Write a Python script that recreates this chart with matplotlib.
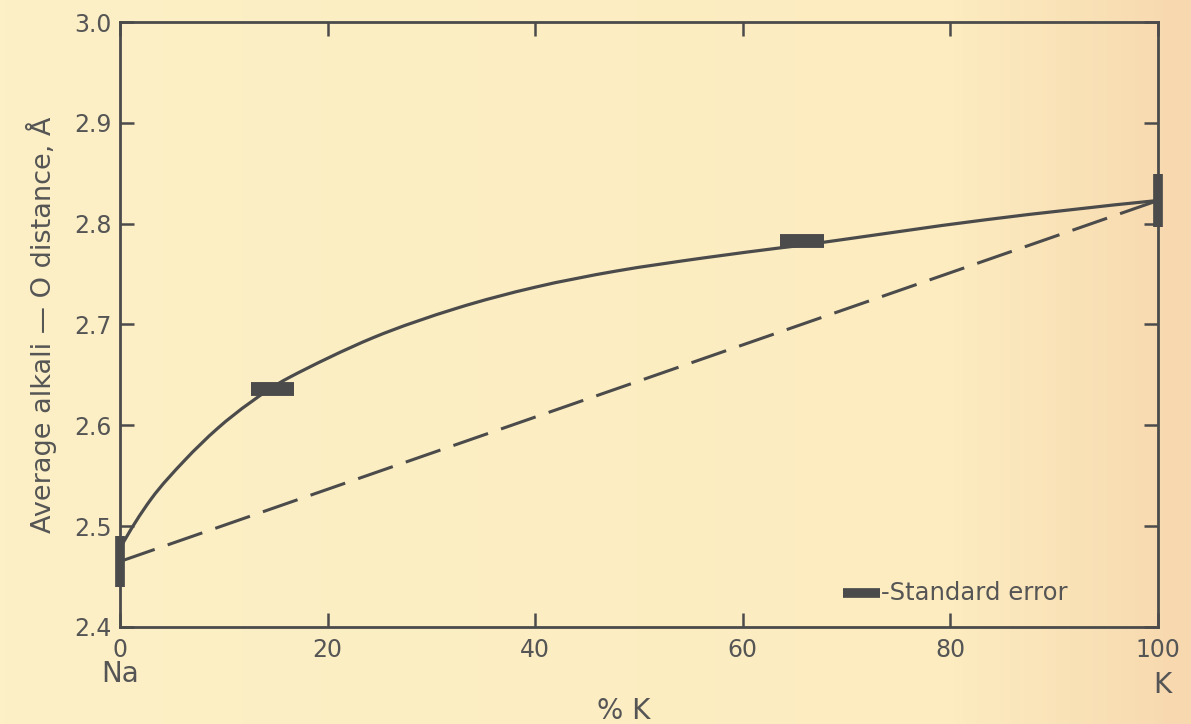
import numpy as np
import matplotlib
matplotlib.use("Agg")
import matplotlib.pyplot as plt
from matplotlib.colors import LinearSegmentedColormap
from matplotlib.path import Path
from matplotlib.patches import PathPatch

# ---- data ----
curve_x = [0.0, 3.0, 6.2, 9.4, 12.6, 16.4, 24.4, 32.4, 40.0,
           47.8, 56.2, 63.6, 67.4, 83.5, 100.0]
curve_y = [2.478, 2.527, 2.565, 2.597, 2.623, 2.648, 2.687, 2.716, 2.737,
           2.753, 2.766, 2.776, 2.781, 2.804, 2.823]
linear_x = [0, 100]
linear_y = [2.465, 2.823]

vbar_x = [0, 100]
vbar_y = [2.465, 2.823]
vbar_err = [0.025, 0.026]

hbar_x = [14.7, 65.7]
hbar_y = [2.636, 2.783]
hbar_err = [2.1, 2.1]

xticks = [0, 20, 40, 60, 80, 100]
yticks = [2.4, 2.5, 2.6, 2.7, 2.8, 2.9, 3.0]

ink = "#4b4b4b"
txt = "#555555"


def smooth_path(xs, ys):
    """Catmull-Rom curve through the points, as cubic Bezier segments."""
    p = np.column_stack([xs, ys]).astype(float)
    n = len(p)
    first = 3 * p[0] - 3 * p[1] + p[2]
    last = 3 * p[-1] - 3 * p[-2] + p[-3]
    q = np.vstack([first, p, last])
    verts = [p[0]]
    codes = [Path.MOVETO]
    for i in range(1, n):
        p0, p1, p2, p3 = q[i - 1], q[i], q[i + 1], q[i + 2]
        c1 = p1 + (p2 - p0) / 6.0
        c2 = p2 - (p3 - p1) / 6.0
        verts += [c1, c2, p2]
        codes += [Path.CURVE4] * 3
    return Path(verts, codes)


fig = plt.figure(figsize=(11.91, 7.24), dpi=100)

# paper-like background gradient
bg = fig.add_axes([0, 0, 1, 1], zorder=-10)
cmap = LinearSegmentedColormap.from_list(
    "paper", [(0, "#fdf0c6"), (0.8, "#fcecc0"), (1.0, "#f8d8ae")])
grad = np.tile(np.linspace(0, 1, 256), (2, 1))
bg.imshow(grad, aspect="auto", cmap=cmap, extent=[0, 1, 0, 1])
bg.axis("off")

ax = fig.add_axes([0.1008, 0.134, 0.8715, 0.8356])
ax.set_facecolor("none")

curve = PathPatch(smooth_path(curve_x, curve_y), fill=False, edgecolor=ink, lw=2.3,
                  transform=ax.transData, zorder=3, capstyle="round")
ax.add_patch(curve)
ax.plot(linear_x, linear_y, color=ink, lw=2.2, dashes=(12, 4.5), dash_capstyle="butt",
        zorder=3)

ax.errorbar(vbar_x, vbar_y, yerr=vbar_err, fmt="none", ecolor=ink, elinewidth=7,
            capsize=0, zorder=4, clip_on=False)
ax.errorbar(hbar_x, hbar_y, xerr=hbar_err, fmt="none", ecolor=ink, elinewidth=10,
            capsize=0, zorder=4, clip_on=False)

ax.set_xlim(0, 100)
ax.set_ylim(2.4, 3.0)
ax.set_xticks(xticks)
ax.set_yticks(yticks)
ax.set_xticklabels([str(v) for v in xticks])
ax.set_yticklabels([f"{v:.1f}" for v in yticks])

for s in ax.spines.values():
    s.set_color(ink)
    s.set_linewidth(2)

ax.tick_params(axis="both", direction="in", length=10, width=1.8, color=ink,
               labelcolor=txt, labelsize=17)
ax.tick_params(axis="y", left=True, right=True, pad=6)
ax.tick_params(axis="x", top=True, bottom=True, pad=8)

ax.set_ylabel("Average alkali — O distance, Å", fontsize=19.5, color=txt, labelpad=12)
ax.set_xlabel("% K", fontsize=20, color=txt)
ax.xaxis.set_label_coords(0.485, -0.115)

ax.text(0, -0.055, "Na", transform=ax.get_xaxis_transform(), ha="center", va="top",
        fontsize=20, color=txt)
ax.text(100.4, -0.072, "K", transform=ax.get_xaxis_transform(), ha="center", va="top",
        fontsize=20, color=txt)

# legend for standard error
ax.plot([0.6965, 0.732], [0.056, 0.056], transform=ax.transAxes, color=ink, lw=7,
        solid_capstyle="butt", clip_on=False)
ax.text(0.733, 0.056, "-Standard error", transform=ax.transAxes, ha="left", va="center",
        fontsize=17.5, color=txt)

fig.savefig("out.png", dpi=100)
